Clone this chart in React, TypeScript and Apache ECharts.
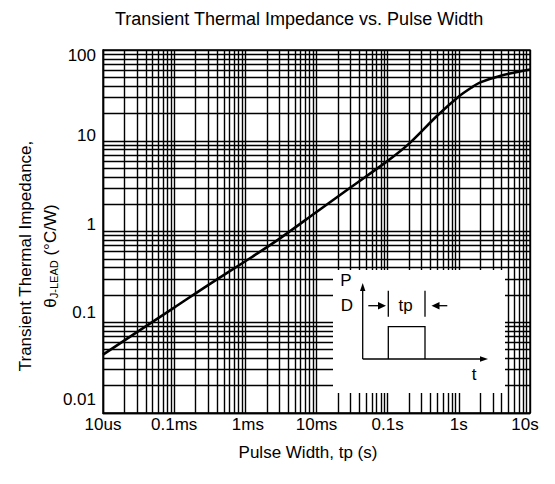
import React, { useEffect, useRef } from 'react';
import * as echarts from 'echarts';

// ---- data ----
const xTickValues = [1e-5, 1e-4, 1e-3, 1e-2, 1e-1, 1, 10];
const xTickLabels = ['10us', '0.1ms', '1ms', '10ms', '0.1s', '1s', '10s'];
const yTickValues = [0.01, 0.1, 1, 10, 100];
const yTickLabels = ['0.01', '0.1', '1', '10', '100'];

const pulseWidth = [1e-5, 3e-5, 1e-4, 3e-4, 1e-3, 3e-3, 1e-2, 3e-2, 0.1, 0.2, 0.5, 1, 1.5, 2, 4, 10];
const impedance = [0.044, 0.078, 0.145, 0.257, 0.47, 0.83, 1.64, 3.05, 6.0, 9.3, 19, 30.8, 38.5, 44, 52.5, 61];

const xDecades = [1e-5, 1e-4, 1e-3, 1e-2, 1e-1, 1];
const yDecades = [0.01, 0.1, 1, 10];
const minorMultipliers = [2, 3, 4, 5, 6, 7, 8, 9];

// ---- layout / style ----
const FONT = '"Liberation Sans", Arial, Helvetica, sans-serif';
const FS = 17;
// vertical shift of each y tick label (px, + = down), same order as yTickValues
const yLabelShift = [-14, -9.5, -7, -5, 5];
// horizontal shift of each x tick label (px, + = right)
const xLabelShift = [0, 0, 2.5, 0, 0, 0, -5];

const idxOf = (vals: number[], v: number) => {
  let best = 0;
  let bd = Infinity;
  vals.forEach((t, i) => {
    const d = Math.abs(Math.log10(t) - Math.log10(v));
    if (d < bd) { bd = d; best = i; }
  });
  return bd < 0.05 ? best : -1;
};

const baseTxt = { fontSize: FS, fontFamily: FONT, color: '#000' };

const yRich: Record<string, any> = {};
yLabelShift.forEach((s, i) => {
  yRich['y' + i] = { ...baseTxt, padding: s < 0 ? [0, 0, -2 * s, 0] : [2 * s, 0, 0, 0] };
});
const xRich: Record<string, any> = {};
xLabelShift.forEach((s, i) => {
  xRich['x' + i] = { ...baseTxt, padding: s < 0 ? [0, -2 * s, 0, 0] : [0, 0, 0, 2 * s] };
});

function buildOption() {
  const markData: any[] = [];
  xDecades.forEach((d) => minorMultipliers.forEach((m) => markData.push({ xAxis: d * m })));
  yDecades.forEach((d) => minorMultipliers.forEach((m) => markData.push({ yAxis: d * m })));

  const gridLine = { color: '#000', width: 1.4, type: 'solid' };
  const ink = { stroke: '#000', lineWidth: 1.3 };
  const txt = (text: string, x: number, y: number) => ({
    type: 'text', x, y, z: 101,
    style: { text, fontSize: FS, fontFamily: FONT, fill: '#000', align: 'center', verticalAlign: 'middle' },
  });

  return {
    animation: false,
    backgroundColor: '#fff',
    title: {
      text: 'Transient Thermal Impedance vs. Pulse Width',
      left: 115,
      top: 10,
      padding: 0,
      textStyle: { fontSize: 18, fontWeight: 'normal', color: '#000', fontFamily: FONT },
    },
    grid: { left: 103, top: 50, right: 25, bottom: 71, show: true, borderColor: '#000', borderWidth: 1.4 },
    xAxis: {
      type: 'log', logBase: 10, min: 1e-5, max: 10,
      axisLine: { show: true, lineStyle: { color: '#000', width: 1.4 } },
      axisTick: { show: false },
      splitLine: { show: true, lineStyle: gridLine },
      axisLabel: {
        ...baseTxt, margin: 3, showMinLabel: true, showMaxLabel: true,
        formatter: (v: number) => {
          const i = idxOf(xTickValues, v);
          return i < 0 ? '' : `{x${i}|${xTickLabels[i]}}`;
        },
        rich: xRich,
      },
      name: 'Pulse Width, tp (s)',
      nameLocation: 'middle',
      nameGap: 31,
      nameTextStyle: { ...baseTxt, padding: [0, 17, 0, 0] },
    },
    yAxis: {
      type: 'log', logBase: 10, min: 0.01, max: 100,
      axisLine: { show: true, lineStyle: { color: '#000', width: 1.4 } },
      axisTick: { show: false },
      splitLine: { show: true, lineStyle: gridLine },
      axisLabel: {
        ...baseTxt, margin: 7, showMinLabel: true, showMaxLabel: true,
        formatter: (v: number) => {
          const i = idxOf(yTickValues, v);
          return i < 0 ? '' : `{y${i}|${yTickLabels[i]}}`;
        },
        rich: yRich,
      },
    },
    series: [
      {
        type: 'line',
        data: pulseWidth.map((x, i) => [x, impedance[i]]),
        showSymbol: false,
        smooth: 0.3,
        z: 5,
        lineStyle: { color: '#000', width: 2.6 },
        markLine: {
          silent: true,
          precision: 12,
          symbol: ['none', 'none'],
          label: { show: false },
          lineStyle: gridLine,
          emphasis: { disabled: true },
          data: markData,
        },
      },
    ],
    graphic: [
      // y-axis title
      {
        type: 'text', x: 37.5, y: 256, rotation: Math.PI / 2, z: 101,
        style: {
          text: '{a|Transient Thermal Impedance,}\n{a|θ}{s|J-LEAD}{a| (°C/W)}',
          align: 'center', verticalAlign: 'middle',
          rich: {
            a: { fontSize: FS, fontFamily: FONT, fill: '#000', lineHeight: 25 },
            s: { fontSize: 11, fontFamily: FONT, fill: '#000', lineHeight: 25, verticalAlign: 'bottom', padding: [0, 0, 3, 0] },
          },
        },
      },
      // inset diagram
      { type: 'rect', z: 100, shape: { x: 333, y: 270, width: 172, height: 123 }, style: { fill: '#fff' } },
      txt('P', 346, 280),
      txt('D', 347, 305),
      txt('tp', 405.7, 305),
      txt('t', 474, 374),
      { type: 'line', z: 101, shape: { x1: 362.7, y1: 289, x2: 362.7, y2: 359 }, style: ink },
      { type: 'polygon', z: 101, shape: { points: [[362.7, 283], [360, 291], [365.4, 291]] }, style: { fill: '#000' } },
      { type: 'line', z: 101, shape: { x1: 362.7, y1: 359, x2: 482, y2: 359 }, style: ink },
      { type: 'polygon', z: 101, shape: { points: [[488, 359], [480, 356.3], [480, 361.7]] }, style: { fill: '#000' } },
      { type: 'polyline', z: 101, shape: { points: [[388.3, 359], [388.3, 326.7], [425, 326.7], [425, 359]] }, style: { ...ink, fill: 'none' } },
      { type: 'line', z: 101, shape: { x1: 388.3, y1: 290.7, x2: 388.3, y2: 316.7 }, style: ink },
      { type: 'line', z: 101, shape: { x1: 425, y1: 290.7, x2: 425, y2: 316.7 }, style: ink },
      { type: 'line', z: 101, shape: { x1: 368.3, y1: 305.7, x2: 380, y2: 305.7 }, style: ink },
      { type: 'polygon', z: 101, shape: { points: [[386, 305.7], [378, 302], [378, 309.4]] }, style: { fill: '#000' } },
      { type: 'line', z: 101, shape: { x1: 447.3, y1: 305.7, x2: 437, y2: 305.7 }, style: ink },
      { type: 'polygon', z: 101, shape: { points: [[431.5, 305.7], [439.5, 302], [439.5, 309.4]] }, style: { fill: '#000' } },
    ],
  };
}

export default function App() {
  const ref = useRef<HTMLDivElement>(null);
  useEffect(() => {
    const chart = echarts.init(ref.current!, null, { renderer: 'svg' });
    chart.setOption(buildOption() as any);
    return () => chart.dispose();
  }, []);
  return (
    <div
      ref={ref}
      style={{ position: 'fixed', left: 0, top: 0, width: 555, height: 484, background: '#fff' }}
    />
  );
}
